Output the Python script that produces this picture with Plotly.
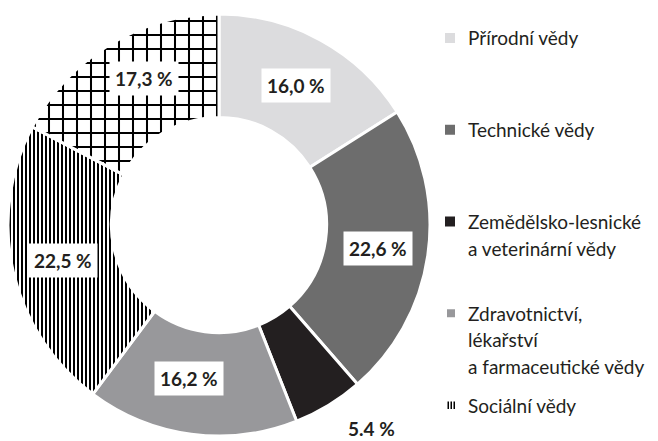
import math
import plotly.graph_objects as go

# ---- data ----
categories = [
    "Přírodní vědy",
    "Technické vědy",
    "Zemědělsko-lesnické a veterinární vědy",
    "Zdravotnictví, lékařství a farmaceutické vědy",
    "Sociální vědy",
    "Humanitní vědy",
]
values = [16.0, 22.6, 5.4, 16.2, 22.5, 17.3]
value_labels = ["16,0 %", "22,6 %", "5.4 %", "16,2 %", "22,5 %", "17,3 %"]
legend_labels = [
    ["Přírodní vědy"],
    ["Technické vědy"],
    ["Zemědělsko-lesnické", "a veterinární vědy"],
    ["Zdravotnictví,", "lékařství", "a farmaceutické vědy"],
    ["Sociální vědy"],
]

# ---- style ----
W, H = 658, 441
cx, cy, R = 219, 225, 211
HOLE = 0.51
FONT = "Lato"
TXT = "#231f20"
colors = ["#dcdcde", "#6d6d6d", "#231f20", "#98989b", "#000000", "#000000"]
pat_shape = ["", "", "", "", "|", "+"]
pat_size = [8, 8, 8, 8, 4, 14]
pat_solid = [0.3, 0.3, 0.3, 0.3, 0.5, 0.27]
pat_fg = ["#dcdcde", "#6d6d6d", "#231f20", "#98989b", "#000000", "#000000"]
pat_bg = ["#dcdcde", "#6d6d6d", "#231f20", "#98989b", "#ffffff", "#ffffff"]
label_r = [0.755, 0.76, 1.205, 0.74, 0.76, 0.78]
label_dtheta = [0, 0, -5.4, 3.5, 0, 4]
label_box = [True, True, False, True, True, True]

fig = go.Figure()
fig.add_trace(go.Pie(
    labels=categories,
    values=values,
    sort=False,
    direction="clockwise",
    rotation=0,
    hole=HOLE,
    textinfo="none",
    hoverinfo="label+value",
    showlegend=False,
    marker=dict(
        colors=colors,
        line=dict(color="white", width=3),
        pattern=dict(shape=pat_shape, size=pat_size, solidity=pat_solid,
                     fgcolor=pat_fg, bgcolor=pat_bg, fillmode="replace"),
    ),
    domain=dict(x=[(cx - R) / W, (cx + R) / W], y=[1 - (cy + R) / H, 1 - (cy - R) / H]),
))

annotations = []
total = sum(values)
cum = 0.0
for v, lab, rf, dth, box in zip(values, value_labels, label_r, label_dtheta, label_box):
    mid = (cum + v / 2) / total * 360 + dth
    cum += v
    th = math.radians(mid)
    r = rf * R
    px = cx + r * math.sin(th)
    py = cy - r * math.cos(th)
    annotations.append(dict(
        x=px / W, y=1 - py / H, xref="paper", yref="paper",
        text="<b>" + lab + "</b>", showarrow=False,
        font=dict(family=FONT, size=19, color=TXT),
        bgcolor="white" if box else "rgba(0,0,0,0)",
        borderpad=5 if box else 0,
        xanchor="center", yanchor="middle",
    ))

# custom legend
shapes = []
leg_x_text = 466
leg_y0 = 38
leg_step = 91.75
line_step = 26.6
icon_sizes = [10, 10, 10, 8, None]
for i, lines in enumerate(legend_labels):
    y = leg_y0 + i * leg_step
    s = icon_sizes[i]
    if s is not None:
        shapes.append(dict(type="rect", xref="paper", yref="paper",
                           x0=(455 - s) / W, x1=455 / W,
                           y0=1 - (y + s / 2) / H, y1=1 - (y - s / 2) / H,
                           fillcolor=colors[i], line=dict(width=0)))
    else:
        for k in range(3):
            xl = 447.5 + k * 3
            shapes.append(dict(type="rect", xref="paper", yref="paper",
                               x0=xl / W, x1=(xl + 1.5) / W,
                               y0=1 - (y + 4) / H, y1=1 - (y - 3.5) / H,
                               fillcolor="#000000", line=dict(width=0)))
    for j, t in enumerate(lines):
        ly = y + j * line_step
        annotations.append(dict(
            x=leg_x_text / W, y=1 - ly / H, xref="paper", yref="paper",
            text=t, showarrow=False, xanchor="left", yanchor="middle",
            font=dict(family=FONT, size=19, color=TXT),
        ))

fig.update_layout(
    width=W, height=H,
    margin=dict(l=0, r=0, t=0, b=0),
    paper_bgcolor="white", plot_bgcolor="white",
    annotations=annotations, shapes=shapes,
    font=dict(family=FONT, color=TXT),
)
fig.write_html(
    "out.html",
    config={"displayModeBar": False},
    post_script="document.body.style.margin='0px';document.body.style.overflow='hidden';",
)
